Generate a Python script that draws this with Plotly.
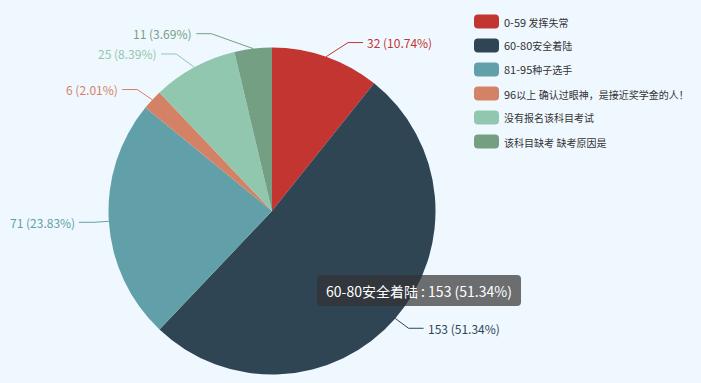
import math
import re
import plotly.graph_objects as go

# ---- data ----
categories = ["0-59 发挥失常", "60-80安全着陆", "81-95种子选手",
              "96以上 确认过眼神，是接近奖学金的人！", "没有报名该科目考试", "该科目缺考 缺考原因是"]
values = [32, 153, 71, 6, 25, 11]
colors = ["#c23531", "#2f4554", "#61a0a8", "#d48265", "#91c7ae", "#749f83"]

# ---- layout constants (pixels) ----
W, H = 701, 383
CX, CY, R = 272, 211, 163.5
LEN1, LEN2 = 15, 15
label_nudge_x = [17, 2, 0, -4, -11, -40]   # label-avoidance shifts
BG = "#f0f8ff"
FONT = "Noto Sans CJK SC, Open Sans, sans-serif"


def px(x):
    return x / W


def py(y):
    return 1 - y / H


def cjk(s, size):
    # render CJK runs slightly narrower, like the reference font
    return re.sub(r"([^\x00-\x7f]+)", lambda m: f'<span style="font-size:{size}px">{m.group(1)}</span>', s)


total = sum(values)
fig = go.Figure()
fig.add_trace(go.Pie(
    labels=categories, values=values, sort=False, direction="clockwise",
    rotation=0, marker=dict(colors=colors, line=dict(width=0)),
    textinfo="none", hoverinfo="skip", showlegend=False,
    domain=dict(x=[px(CX - R), px(CX + R)], y=[py(CY + R), py(CY - R)]),
))

shapes = []
annotations = []
cum = 0
for i, v in enumerate(values):
    mid = (cum + v / 2) / total * 2 * math.pi
    cum += v
    s, c = math.sin(mid), math.cos(mid)
    p0 = (CX + R * s, CY - R * c)
    p1 = (CX + (R + LEN1) * s + label_nudge_x[i], CY - (R + LEN1) * c)
    right = s >= 0
    p2 = (p1[0] + (LEN2 if right else -LEN2), p1[1])
    shapes.append(dict(
        type="path", xref="paper", yref="paper",
        path=f"M{px(p0[0])},{py(p0[1])} L{px(p1[0])},{py(p1[1])} L{px(p2[0])},{py(p2[1])}",
        line=dict(color=colors[i], width=1),
    ))
    pct = v / total * 100
    annotations.append(dict(
        xref="paper", yref="paper", x=px(p2[0] + (2 if right else -2)), y=py(p2[1]),
        xanchor="left" if right else "right", yanchor="middle",
        text=f"{v} ({pct:.2f}%)", showarrow=False,
        font=dict(size=12, color=colors[i], family=FONT),
    ))

# ---- custom legend ----
LX, LY0, LSTEP = 474, 21.5, 24
for i, name in enumerate(categories):
    yc = LY0 + i * LSTEP
    x0, x1, y0, y1, r = LX, LX + 25, yc - 7, yc + 7, 4
    path = (f"M{px(x0 + r)},{py(y0)} L{px(x1 - r)},{py(y0)} "
            f"Q{px(x1)},{py(y0)} {px(x1)},{py(y0 + r)} L{px(x1)},{py(y1 - r)} "
            f"Q{px(x1)},{py(y1)} {px(x1 - r)},{py(y1)} L{px(x0 + r)},{py(y1)} "
            f"Q{px(x0)},{py(y1)} {px(x0)},{py(y1 - r)} L{px(x0)},{py(y0 + r)} "
            f"Q{px(x0)},{py(y0)} {px(x0 + r)},{py(y0)} Z")
    shapes.append(dict(type="path", xref="paper", yref="paper", path=path,
                       fillcolor=colors[i], line=dict(width=0)))
    annotations.append(dict(
        xref="paper", yref="paper", x=px(LX + 28), y=py(yc),
        xanchor="left", yanchor="middle", text=cjk(name, 10), showarrow=False,
        font=dict(size=11, color="#333333", family=FONT),
    ))

# ---- static tooltip ----
tx0, tx1, ty0, ty1, tr = 317, 521, 275, 306, 4
tpath = (f"M{px(tx0 + tr)},{py(ty0)} L{px(tx1 - tr)},{py(ty0)} "
         f"Q{px(tx1)},{py(ty0)} {px(tx1)},{py(ty0 + tr)} L{px(tx1)},{py(ty1 - tr)} "
         f"Q{px(tx1)},{py(ty1)} {px(tx1 - tr)},{py(ty1)} L{px(tx0 + tr)},{py(ty1)} "
         f"Q{px(tx0)},{py(ty1)} {px(tx0)},{py(ty1 - tr)} L{px(tx0)},{py(ty0 + tr)} "
         f"Q{px(tx0)},{py(ty0)} {px(tx0 + tr)},{py(ty0)} Z")
shapes.append(dict(type="path", xref="paper", yref="paper", path=tpath,
                   fillcolor="rgba(50,50,50,0.7)", line=dict(width=0), layer="above"))
hi = 1
annotations.append(dict(
    xref="paper", yref="paper", x=px((tx0 + tx1) / 2), y=py((ty0 + ty1) / 2),
    xanchor="center", yanchor="middle",
    text=f"{categories[hi]} : {values[hi]} ({values[hi] / total * 100:.2f}%)",
    showarrow=False, font=dict(size=14, color="#ffffff", family=FONT),
))

fig.update_layout(
    width=W, height=H, margin=dict(l=0, r=0, t=0, b=0),
    paper_bgcolor=BG, plot_bgcolor=BG,
    shapes=shapes, annotations=annotations,
)
fig.write_html("out.html")
